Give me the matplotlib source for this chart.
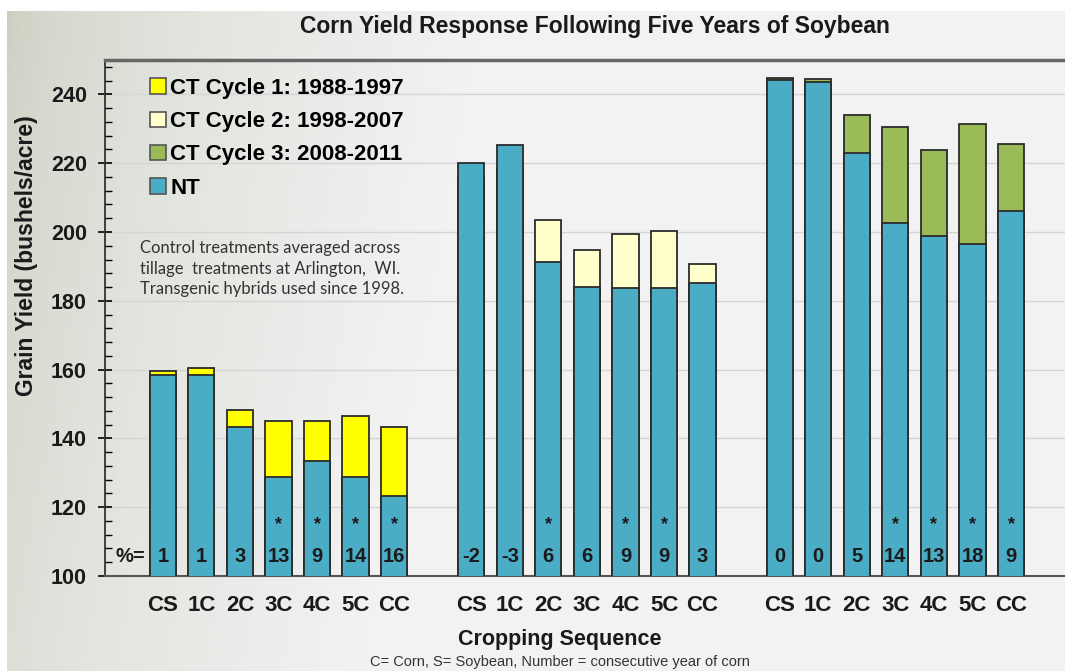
import numpy as np
import matplotlib as mpl
mpl.use('Agg')
import matplotlib.pyplot as plt
from matplotlib.patches import Patch

plt.rcParams['font.family'] = ['Liberation Sans', 'DejaVu Sans']

# cropping sequences (same for each cycle)
sequences = ['CS', '1C', '2C', '3C', '4C', '5C', 'CC']

# grain yield, bushels/acre
nt_cycle1 = [158.3, 158.4, 143.2, 128.8, 133.4, 128.8, 123.3]
ct_cycle1 = [159.5, 160.4, 148.2, 145.1, 145.1, 146.5, 143.4]
nt_cycle2 = [220.0, 225.2, 191.3, 184.0, 183.7, 183.7, 185.3]
ct_cycle2 = [215.6, 218.5, 203.4, 194.9, 199.5, 200.2, 190.6]
nt_cycle3 = [244.3, 243.7, 223.1, 202.6, 198.7, 196.4, 206.1]
ct_cycle3 = [244.8, 244.5, 233.9, 230.5, 223.7, 231.3, 225.5]

# % difference CT over NT, and significance stars
pct_cycle1 = [1, 1, 3, 13, 9, 14, 16]
pct_cycle2 = [-2, -3, 6, 6, 9, 9, 3]
pct_cycle3 = [0, 0, 5, 14, 13, 18, 9]
sig_cycle1 = [0, 0, 0, 1, 1, 1, 1]
sig_cycle2 = [0, 0, 1, 0, 1, 1, 0]
sig_cycle3 = [0, 0, 0, 1, 1, 1, 1]

legend_labels = ['CT Cycle 1: 1988-1997', 'CT Cycle 2: 1998-2007',
                 'CT Cycle 3: 2008-2011', 'NT']

nt_color = '#4BACC6'
ct_colors = ['#FFFF00', '#FFFFCC', '#9BBB59']
edge = '#2b2b2b'

W, H = 1065, 671
fig = plt.figure(figsize=(W / 100, H / 100), dpi=100)
fig.patch.set_facecolor('white')

# soft slide background
bg = fig.add_axes([7 / W, 0, 1 - 7 / W, 1 - 11 / H], zorder=-10)
gx = np.linspace(0, 1, 300)
gy = np.linspace(0, 1, 200)
X, Y = np.meshgrid(gx, gy)
t = np.clip(X * 2.2 + (1 - Y) * 0.25, 0, 1) ** 0.55
c0 = np.array([0.79, 0.81, 0.75])
c1 = np.array([0.95, 0.95, 0.95])
img = c0[None, None, :] * (1 - t[..., None]) + c1[None, None, :] * t[..., None]
bg.imshow(img, aspect='auto', origin='lower', extent=[0, 1, 0, 1])
bg.axis('off')

ax = fig.add_axes([105 / W, (H - 576) / H, 1 - 105 / W, (576 - 60) / H])
ax.patch.set_alpha(0)

groups = [
    (nt_cycle1, ct_cycle1, pct_cycle1, sig_cycle1, ct_colors[0]),
    (nt_cycle2, ct_cycle2, pct_cycle2, sig_cycle2, ct_colors[1]),
    (nt_cycle3, ct_cycle3, pct_cycle3, sig_cycle3, ct_colors[2]),
]

ticks = []
tick_labels = []
width = 0.68
for g, (nt, ct, pct, sig, col) in enumerate(groups):
    x = np.arange(len(sequences)) + g * 8
    ticks += list(x)
    tick_labels += sequences
    ax.bar(x, ct, width=width, bottom=0, color=col, edgecolor=edge, lw=1.3, zorder=2)
    ax.bar(x, nt, width=width, bottom=0, color=nt_color, edgecolor=edge, lw=1.3, zorder=3)
    for xi, p, s in zip(x, pct, sig):
        ax.text(xi, 105.8, str(p), ha='center', va='center', fontsize=14.5,
                fontweight='bold', color='#1a1a1a', zorder=5)
        if s:
            ax.text(xi, 114.8, '*', ha='center', va='center', fontsize=13,
                    fontweight='bold', color='#1a1a1a', zorder=5)

ax.text(-0.85, 105.8, '%=', ha='center', va='center', fontsize=14.5,
        fontweight='bold', color='#1a1a1a')

ax.set_ylim(100, 250)
ax.set_xlim(-1.5, 23.4)
ax.set_yticks(np.arange(100, 241, 20))
ax.set_yticks(np.arange(100, 250, 4), minor=True)
ax.set_xticks(ticks)
ax.set_xticklabels(tick_labels)
ax.tick_params(axis='x', length=0, pad=14, labelsize=16)
ax.tick_params(axis='y', which='major', direction='inout', length=10, width=1.2,
               pad=8, labelsize=15.5)
ax.tick_params(axis='y', which='minor', direction='in', length=5, width=1.0)
for lab in ax.get_xticklabels() + ax.get_yticklabels():
    lab.set_fontweight('bold')
    lab.set_color('#1a1a1a')
ax.yaxis.grid(True, color='#d5d5d5', lw=1.0)
ax.set_axisbelow(True)

ax.spines['right'].set_visible(False)
ax.spines['top'].set_color('#666666')
ax.spines['top'].set_linewidth(2.5)
ax.spines['left'].set_color('#333333')
ax.spines['left'].set_linewidth(1.3)
ax.spines['bottom'].set_color('#555555')
ax.spines['bottom'].set_linewidth(1.5)

ax.set_ylabel('Grain Yield (bushels/acre)', fontsize=16.5, fontweight='bold',
              color='#1a1a1a')
ax.yaxis.set_label_coords(-67 / (W - 105), (576 - 256) / 516)

handles = [Patch(facecolor=c, edgecolor='#555555', lw=1.2) for c in ct_colors]
handles.append(Patch(facecolor=nt_color, edgecolor='#555555', lw=1.2))
leg = ax.legend(handles, legend_labels, loc='upper left',
                bbox_to_anchor=(25 / (W - 105), 1 + 2 / 516), frameon=False,
                handlelength=0.7, handleheight=0.7, handletextpad=0.2,
                labelspacing=0.55, prop={'size': 16, 'weight': 'bold'})

ax.text(35 / (W - 105), 1 - 180 / 516,
        'Control treatments averaged across\ntillage  treatments at Arlington,  WI.\n'
        'Transgenic hybrids used since 1998.',
        transform=ax.transAxes, ha='left', va='top', fontsize=12,
        family='Lato', color='#333333', linespacing=1.35)

fig.text(595 / W, 1 - 27 / H, 'Corn Yield Response Following Five Years of Soybean',
         ha='center', va='center', fontsize=16.5, fontweight='bold',
         family=['Liberation Sans Narrow', 'Liberation Sans'], color='#1a1a1a')
fig.text(560 / W, 1 - 640 / H, 'Cropping Sequence', ha='center', va='center',
         fontsize=15.5, fontweight='bold', color='#1a1a1a')
fig.text(560 / W, 1 - 662 / H, 'C= Corn, S= Soybean, Number = consecutive year of corn',
         ha='center', va='center', fontsize=10.5, color='#333333')

fig.savefig('out.png', dpi=100)
